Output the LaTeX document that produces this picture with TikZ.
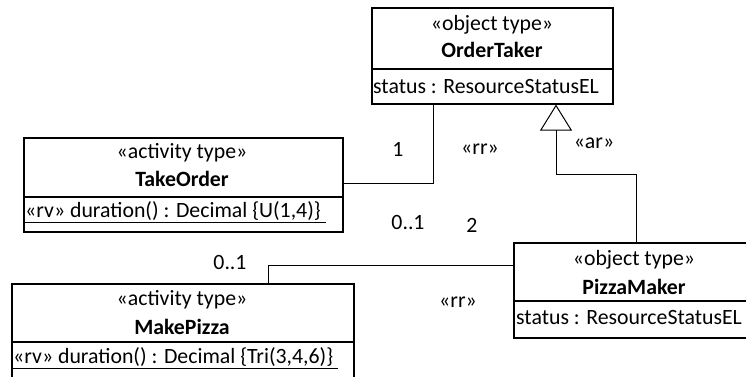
\documentclass[tikz,border=0pt]{standalone}
\usepackage{fontspec}
\setmainfont{Carlito}
\usetikzlibrary{arrows.meta}
\begin{document}
\begin{tikzpicture}[x=1pt,y=-1pt,
  classbox/.style={draw,line width=1.6pt,rectangle,inner sep=0pt,anchor=north west},
  divider/.style={line width=1.6pt},
  conn/.style={line width=1pt},
  txt/.style={inner sep=0pt,font=\fontsize{21.8}{26}\selectfont},
  txtl/.style={txt,anchor=west},
  bold/.style={txt,font=\fontsize{21.8}{26}\selectfont\bfseries},
  gen/.style={conn,-{Triangle[open,length=26pt,width=32pt]}}
]
\useasboundingbox (0,0) rectangle (746,377);
% OrderTaker
\node[classbox,minimum width=241pt,minimum height=96pt] (ot) at (371,7) {};
\draw[divider] (371,69) -- (612,69);
\node[txt] (ots) at (492,25) {«object type»};
\node[bold] (otn) at (492,50) {OrderTaker};
\node[txtl] (ota) at (373,87) {status : ResourceStatusEL};
% TakeOrder
\node[classbox,minimum width=319pt,minimum height=94pt] (to) at (23,137) {};
\draw[divider] (23,197) -- (342,197);
\node[txt] (tos) at (182,153) {«activity type»};
\node[bold] (ton) at (182,179) {TakeOrder};
\node[txtl] (toa) at (25,212) {\underline{«rv» duration() : Decimal \{U(1,4)\}\ }};
% MakePizza
\node[classbox,minimum width=342pt,minimum height=110pt] (mp) at (11,283) {};
\draw[divider] (11,342) -- (353,342);
\node[txt] (mps) at (182,300) {«activity type»};
\node[bold] (mpn) at (182,327) {MakePizza};
\node[txtl] (mpa) at (13,358) {\underline{«rv» duration() : Decimal \{Tri(3,4,6)\}\ }};
% PizzaMaker
\node[classbox,minimum width=242pt,minimum height=95pt] (pm) at (513,242) {};
\draw[divider] (513,301) -- (755,301);
\node[txt] (pms) at (634,260) {«object type»};
\node[bold] (pmn) at (634,287) {PizzaMaker};
\node[txtl] (pma) at (516,318) {status : ResourceStatusEL};
% connectors
\draw[conn] (433,0 |- ot.south) -- (433,183) -- (to.east |- 0,183);
\draw[conn] (268,0 |- mp.north) -- (268,265) -- (pm.west |- 0,265);
\draw[gen] (636,0 |- pm.north) -- (636,174) -- (556,174) -- (556,0 |- ot.south);
% labels
\node[txt] (l1) at (398,149) {1};
\node[txt] (lrr1) at (480,149) {«rr»};
\node[txt] (lar) at (594,143) {«ar»};
\node[txt] (l01a) at (408,223) {0..1};
\node[txt] (l2) at (472,225) {2};
\node[txt] (l01b) at (230,263) {0..1};
\node[txt] (lrr2) at (458,302) {«rr»};
\end{tikzpicture}
\end{document}
